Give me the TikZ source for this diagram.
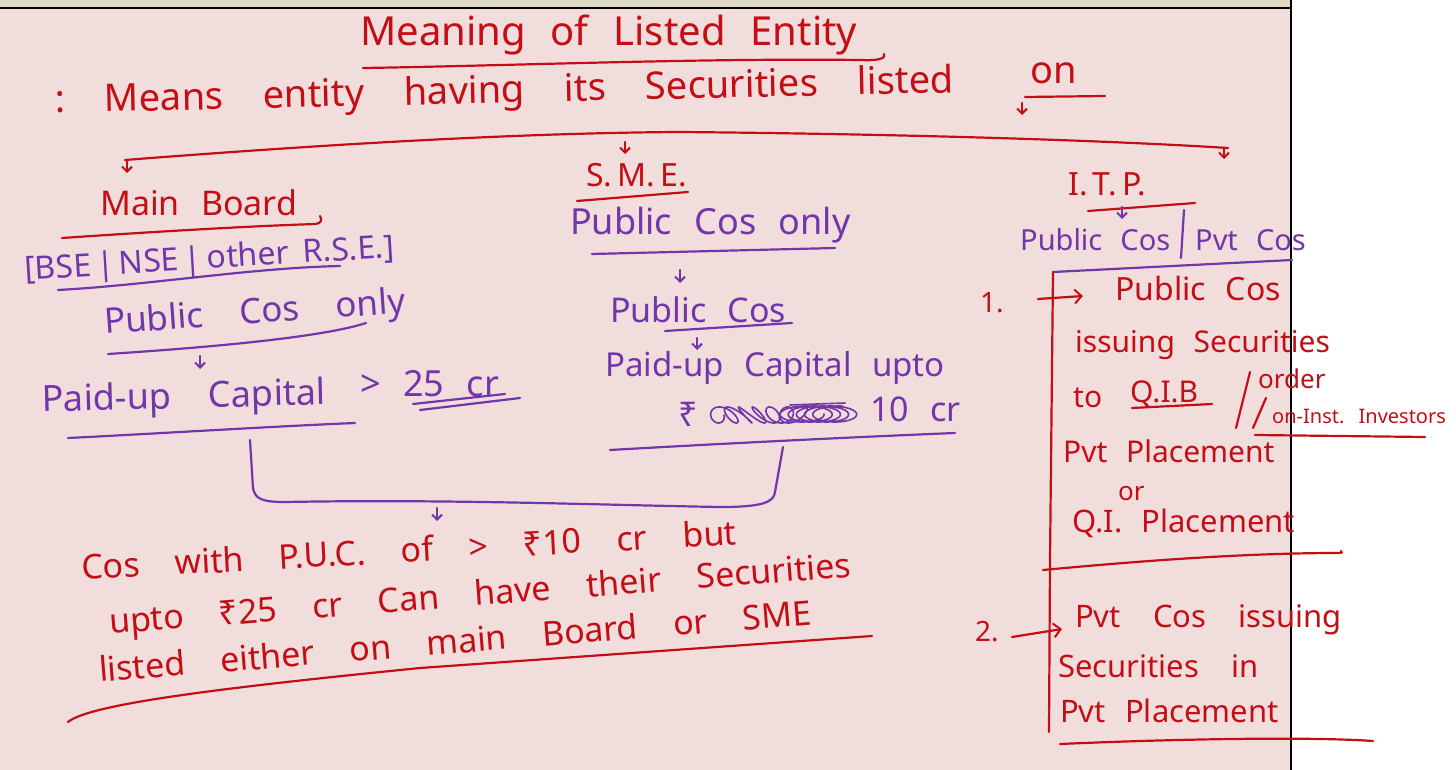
\documentclass[tikz,border=0pt]{standalone}
\usepackage{fontspec}
\setmainfont{Noto Sans}[WordSpace=2.4]
\newfontfamily\wide{Noto Sans}[WordSpace=4]
\usetikzlibrary{arrows.meta}
\definecolor{ink}{RGB}{196,14,22}
\definecolor{plum}{RGB}{114,54,170}
\definecolor{paper}{RGB}{242,221,221}
\definecolor{strip}{RGB}{222,216,196}
\newcommand\fsz[1]{\fontsize{#1}{#1}\selectfont}
\tikzset{
  redt/.style={text=ink, inner sep=0pt, anchor=base west},
  purt/.style={text=plum, inner sep=0pt, anchor=base west},
  redl/.style={draw=ink, line width=2.2pt, line cap=round, line join=round},
  purl/.style={draw=plum, line width=2.2pt, line cap=round, line join=round},
  tip/.style={-{Straight Barb[length=5pt,width=10pt,line width=2pt]}},
  opentip/.style={-{Straight Barb[length=7pt,width=14pt,line width=2pt]}},
}
\begin{document}
\begin{tikzpicture}[x=1pt,y=-1pt]
\useasboundingbox (0,0) rectangle (1456,770);
% page
\fill[white] (0,0) rectangle (1456,770);
\fill[paper] (0,8) rectangle (1291,770);
\fill[strip] (0,0) rectangle (1291,7);
\draw[black,line width=2.6pt] (0,8) -- (1291,8);
\draw[black,line width=2.6pt] (1291,0) -- (1291,770);

% heading
\node[redt,font=\fsz{40}] (title) at (360,46) {Meaning of Listed Entity};
\draw[redl] (363,68) .. controls (500,66) and (700,58) .. (860,60) .. controls (880,61) and (886,58) .. (884,54);
\node[redt,font=\wide\fsz{38},rotate=1.3] (means) at (55,113) {:\ Means entity having its Securities listed};
\node[redt,font=\fsz{38}] (on) at (1030,84) {on};
\draw[redl] (1025,97) -- (1105,96);
\coordinate (onA) at (1022,103); \coordinate (onB) at (1022,115);
\draw[redl,tip] (onA) -- (onB);

% three-way split
\coordinate (splitL) at (125,160);
\coordinate (splitM) at (625,140);
\coordinate (splitR) at (1228,148);
\draw[redl] (splitL) .. controls (330,144) and (520,133) .. (680,132) .. controls (900,134) and (1100,140) .. (splitR);
\coordinate (mbA) at (127,161); \coordinate (mbB) at (127,173);
\coordinate (smA) at (625,142); \coordinate (smB) at (625,154);
\coordinate (itA) at (1224,148); \coordinate (itB) at (1224,159);
\draw[redl,tip] (mbA) -- (mbB);
\draw[redl,tip] (smA) -- (smB);
\draw[redl,tip] (itA) -- (itB);

% Main Board column
\node[redt,font=\fsz{34}] (mb) at (100,215) {Main Board};
\draw[redl] (62,238) .. controls (150,232) and (250,226) .. (316,224) .. controls (322,223) and (322,219) .. (320,216);
\node[purt,font=\fsz{32},rotate=3.5] (exch) at (25,280) {[BSE\,|\,NSE\,|\,other\hspace{14pt}R.S.E.]};
\draw[purl] (58,290) .. controls (150,285) and (250,268) .. (340,266);
\node[purt,font=\wide\fsz{35},rotate=4] (mbpub) at (105,334) {Public Cos only};
\draw[purl] (108,354) .. controls (200,348) and (320,338) .. (366,323);
\coordinate (mbpA) at (200,356); \coordinate (mbpB) at (200,369);
\draw[purl,tip] (mbpA) -- (mbpB);
\node[purt,font=\wide\fsz{36},rotate=1.5] (mbpuc) at (42,412) {Paid-up Capital};
\node[purt,font=\fsz{36}] (mbgt) at (360,396) {>\ 25 cr};
\draw[purl] (413,404) -- (505,394);
\draw[purl] (420,410) -- (520,398);
\coordinate (mbU1) at (68,438); \coordinate (mbU2) at (355,423);
\draw[purl] (mbU1) .. controls (150,434) and (280,426) .. (mbU2);

% SME column
\node[redt,font=\fsz{32}] (sme) at (586,187) {S.\,M.\,E.};
\draw[redl] (577,201) -- (688,192);
\node[purt,font=\fsz{36}] (smpub) at (570,234) {Public Cos only};
\draw[purl] (592,254) -- (835,248);
\coordinate (smpA) at (680,270); \coordinate (smpB) at (680,283);
\draw[purl,tip] (smpA) -- (smpB);
\node[purt,font=\fsz{34}] (smcos) at (610,322) {Public Cos};
\draw[purl] (665,331) -- (792,323);
\coordinate (smcA) at (697,338); \coordinate (smcB) at (697,350);
\draw[purl,tip] (smcA) -- (smcB);
\node[purt,font=\fsz{33}] (smpuc) at (605,376) {Paid-up Capital upto};
\node[purt,font=\fsz{34}] (rupee) at (678,426) {₹};
% crossed-out figure
\draw[purl,line width=1.6pt] plot[domain=0:38,samples=400,smooth]
  ({714+2.2*\x+10*cos(\x*57.3)}, {415+8*sin(\x*57.3*1.1)});
\draw[purl,line width=1.6pt] plot[domain=0:30,samples=300,smooth]
  ({800+1.3*\x+24*cos(\x*57.3)}, {414+8*sin(\x*57.3)});
\draw[purl,line width=1.6pt] (790,405) -- (845,403);
\node[purt,font=\fsz{34}] (smten) at (870,421) {10 cr};
\coordinate (smU1) at (610,450); \coordinate (smU2) at (955,433);
\draw[purl] (smU1) .. controls (750,442) and (880,436) .. (smU2);

% bracket joining the two columns
\coordinate (brL) at (250,440);
\coordinate (brR) at (783,447);
\draw[purl] (brL) -- (253,488) .. controls (255,499) and (262,502) .. (285,502)
  .. controls (450,499) and (600,505) .. (720,507) .. controls (760,507) and (774,503) .. (775,492) -- (brR);
\coordinate (brA) at (437,508); \coordinate (brB) at (437,521);
\draw[purl,tip] (brA) -- (brB);

% note under the bracket
\node[redt,font=\wide\fsz{34},rotate=3.1] (n1) at (82,580) {Cos with P.U.C. of >\ ₹10 cr but};
\node[redt,font=\wide\fsz{34},rotate=4.4] (n2) at (110,634) {upto ₹25 cr Can have their Securities};
\node[redt,font=\wide\fsz{34},rotate=4.6] (n3) at (100,682) {listed either on main Board or SME};
\draw[redl] (68,722) .. controls (90,704) and (220,688) .. (420,668) -- (872,636);

% I.T.P. column
\node[redt,font=\fsz{32}] (itp) at (1068,196) {I.\,T.\,P.};
\draw[redl] (1088,211) -- (1195,203);
\coordinate (itpA) at (1122,207); \coordinate (itpB) at (1122,219);
\draw[purl,tip] (itpA) -- (itpB);
\node[purt,font=\fsz{29}] (itpub) at (1020,250) {Public Cos};
\draw[purl] (1184,210) -- (1181,258);
\node[purt,font=\fsz{29}] (itpvt) at (1195,250) {Pvt Cos};
\coordinate (itU1) at (1053,272); \coordinate (itU2) at (1292,260);
\draw[purl] (itU1) -- (itU2);
\coordinate (itV) at (1049,732);
\draw[redl] (itU1) -- (1050,560) -- (itV);
\draw[redl] (1043,570) .. controls (1150,560) and (1250,553) .. (1338,553) .. controls (1342,553) and (1343,552) .. (1341,551);
\draw[redl] (1060,744) .. controls (1150,740) and (1300,736) .. (1373,741);

% case 1
\node[redt,font=\fsz{28}] (one) at (980,312) {1.};
\coordinate (oneA) at (1038,299); \coordinate (oneB) at (1083,296);
\draw[redl,opentip] (oneA) -- (oneB);
\node[redt,font=\fsz{32}] (c1a) at (1115,300) {Public Cos};
\node[redt,font=\fsz{30}] (c1b) at (1075,352) {issuing Securities};
\node[redt,font=\fsz{30}] (c1to) at (1073,407) {to};
\node[redt,font=\fsz{30}] (c1q) at (1130,402) {Q.I.B};
\draw[redl] (1132,408) -- (1212,404);
\draw[redl] (1250,372) -- (1236,428);
\node[redt,font=\fsz{26}] (c1or) at (1258,388) {order};
\draw[redl] (1266,398) -- (1253,428);
\node[redt,font=\fsz{20}] (c1ni) at (1272,423) {on-Inst. Investors};
\draw[redl] (1255,435) -- (1425,437);
\node[redt,font=\fsz{30}] (c1pp) at (1063,462) {Pvt Placement};
\node[redt,font=\fsz{26}] (c1x) at (1118,500) {or};
\node[redt,font=\fsz{31}] (c1qp) at (1072,532) {Q.I. Placement};

% case 2
\node[redt,font=\fsz{28}] (two) at (975,641) {2.};
\coordinate (twoA) at (1012,637); \coordinate (twoB) at (1062,629);
\draw[redl,opentip] (twoA) -- (twoB);
\node[redt,font=\wide\fsz{31}] (c2a) at (1075,627) {Pvt Cos issuing};
\node[redt,font=\wide\fsz{31}] (c2b) at (1058,677) {Securities in};
\node[redt,font=\fsz{31}] (c2c) at (1060,722) {Pvt Placement};
\end{tikzpicture}
\end{document}
